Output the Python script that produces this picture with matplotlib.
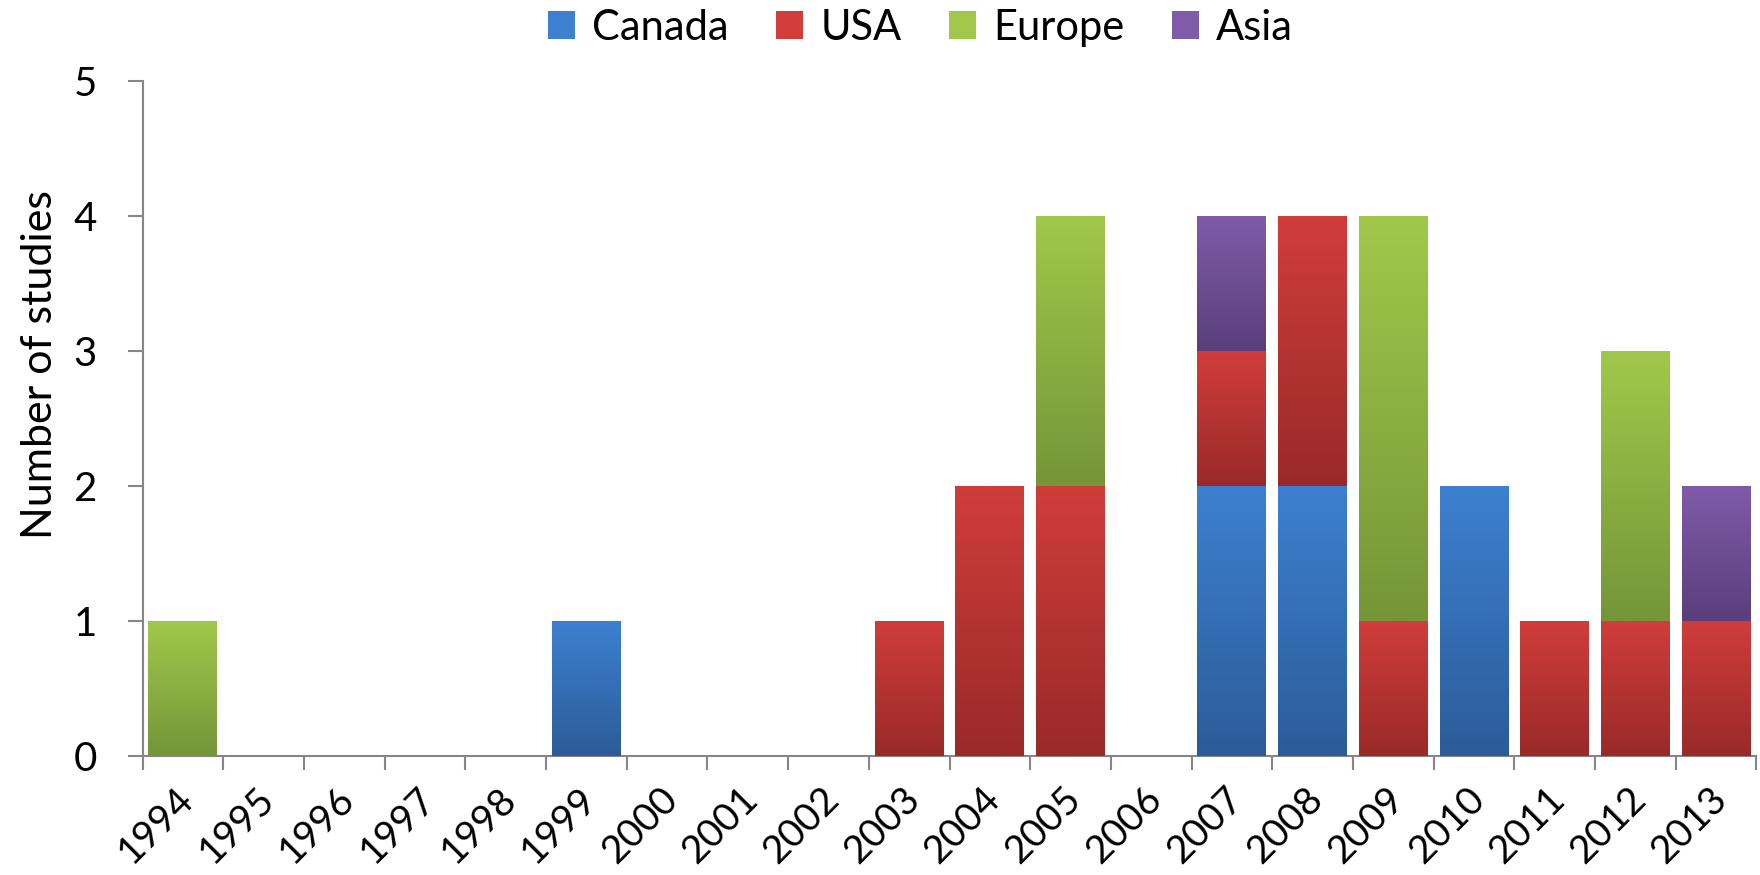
import numpy as np
import matplotlib.pyplot as plt
import matplotlib.transforms as mtransforms
from matplotlib.colors import LinearSegmentedColormap
from matplotlib.patches import Patch

years = [str(y) for y in range(1994, 2014)]
canada = [0, 0, 0, 0, 0, 1, 0, 0, 0, 0, 0, 0, 0, 2, 2, 0, 2, 0, 0, 0]
usa    = [0, 0, 0, 0, 0, 0, 0, 0, 0, 1, 2, 2, 0, 1, 2, 1, 0, 1, 1, 1]
europe = [1, 0, 0, 0, 0, 0, 0, 0, 0, 0, 0, 2, 0, 0, 0, 3, 0, 0, 2, 0]
asia   = [0, 0, 0, 0, 0, 0, 0, 0, 0, 0, 0, 0, 0, 1, 0, 0, 0, 0, 0, 1]

series = [("Canada", canada, "#3d80d0", "#2c5c98"),
          ("USA", usa, "#d03d3b", "#992a29"),
          ("Europe", europe, "#a1c84b", "#759538"),
          ("Asia", asia, "#7f5ba9", "#5a3f7b")]

plt.rcParams['font.family'] = ['Lato', 'DejaVu Sans']

fig = plt.figure(figsize=(17.6, 8.75), dpi=100)
ax = fig.add_axes([0.081, 0.136, 0.917, 0.771])

x = np.arange(len(years))
bottom = np.zeros(len(years))
handles = []
grad = np.linspace(0, 1, 256).reshape(-1, 1)
for name, vals, top_c, bot_c in series:
    vals = np.array(vals, dtype=float)
    bars = ax.bar(x, vals, 0.855, bottom=bottom, color=top_c, linewidth=0, zorder=2)
    cmap = LinearSegmentedColormap.from_list(name, [bot_c, top_c])
    for b in bars:
        if b.get_height() <= 0:
            continue
        x0, y0 = b.get_x(), b.get_y()
        im = ax.imshow(grad, cmap=cmap, origin='lower', aspect='auto',
                       extent=[x0, x0 + b.get_width(), y0, y0 + b.get_height()],
                       zorder=3)
        im.set_clip_path(b)
    bottom += vals
    handles.append(Patch(facecolor=top_c, label=name))

ax.set_xlim(-0.5, len(years) - 0.5)
ax.set_ylim(0, 5)
ax.set_yticks(range(6))
ax.tick_params(axis='y', labelsize=29, length=11, color='#868686', width=1.5, pad=22)
ax.set_xticks(x)
ax.set_xticklabels(years, rotation=45, ha='right', rotation_mode='anchor', fontsize=28)
ax.set_xticks(np.arange(-0.5, len(years)), minor=True)
ax.tick_params(axis='x', which='major', length=0, pad=18)
ax.tick_params(axis='x', which='minor', length=10, color='#868686', width=1.5)
offset = mtransforms.ScaledTranslation(-0.08, 0, fig.dpi_scale_trans)
for lab in ax.get_xticklabels():
    lab.set_transform(lab.get_transform() + offset)

for s in ['top', 'right']:
    ax.spines[s].set_visible(False)
for s in ['left', 'bottom']:
    ax.spines[s].set_color('#868686')
    ax.spines[s].set_linewidth(1.5)

ax.set_ylabel("Number of studies", fontsize=31)
ax.yaxis.set_label_coords(-0.052, 0.58)

fig.legend(handles=handles, loc='center', bbox_to_anchor=(0.523, 0.968), ncol=4,
           frameon=False, fontsize=30, handlelength=0.65, handleheight=0.65,
           handletextpad=0.4, columnspacing=1.15)

plt.savefig("out.png")
